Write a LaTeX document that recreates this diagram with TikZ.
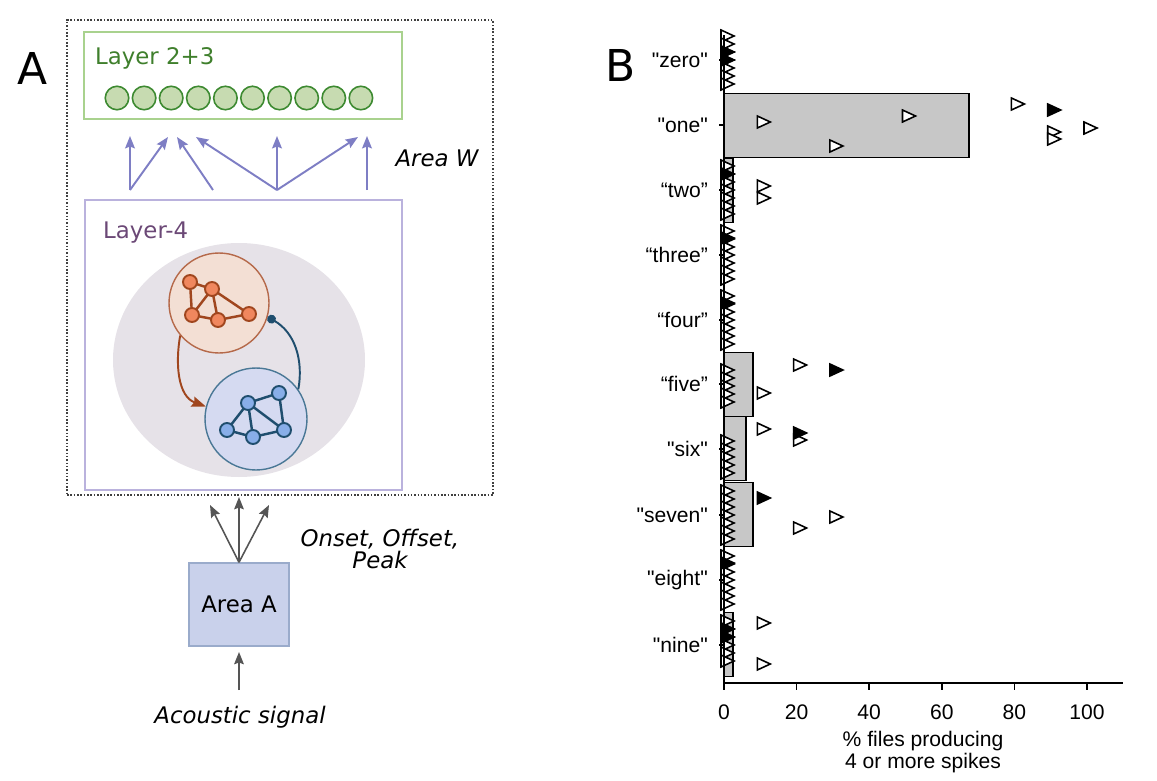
\documentclass[tikz,border=0pt]{standalone}
\usepackage{xcolor}
\usepackage{fontspec}
\setmainfont{DejaVu Sans}
\newfontfamily\plotfont{Liberation Sans}
\usepackage{tikz}
\usetikzlibrary{arrows.meta,positioning}

\definecolor{boxgreen}{HTML}{A9D28E}
\definecolor{textgreen}{HTML}{3F7F2C}
\definecolor{unitfill}{HTML}{C7DBB1}
\definecolor{unitline}{HTML}{3D8A31}
\definecolor{feedblue}{HTML}{7E7EC4}
\definecolor{boxpurple}{HTML}{BAB2DD}
\definecolor{textpurple}{HTML}{6B4876}
\definecolor{blobgray}{HTML}{E6E2E8}
\definecolor{orfill}{HTML}{F3DFD4}
\definecolor{orline}{HTML}{B5694A}
\definecolor{ornode}{HTML}{F0875E}
\definecolor{oredge}{HTML}{A0461E}
\definecolor{blfill}{HTML}{D5DAF1}
\definecolor{blline}{HTML}{4A7896}
\definecolor{blnode}{HTML}{88AEE8}
\definecolor{bledge}{HTML}{1F4E6E}
\definecolor{areafill}{HTML}{C9D1EB}
\definecolor{arealine}{HTML}{9AABCB}
\definecolor{inputgray}{HTML}{555555}

\tikzset{
    panelfont/.style={font=\fontsize{13}{16}\selectfont},
    italfont/.style={font=\fontsize{13}{16}\selectfont\itshape},
    unitcirc/.style={circle, draw=unitline, fill=unitfill, line width=0.9pt,
        minimum size=0.47cm, inner sep=0pt},
    ornet/.style={circle, draw=oredge, fill=ornode, line width=1.1pt,
        minimum size=0.28cm, inner sep=0pt},
    blnet/.style={circle, draw=bledge, fill=blnode, line width=1.1pt,
        minimum size=0.28cm, inner sep=0pt},
    feedarrow/.style={draw=feedblue, line width=1.1pt,
        -{Stealth[length=7pt,width=5.5pt,inset=1pt]}},
    inputarrow/.style={draw=inputgray, line width=0.9pt,
        -{Stealth[length=7pt,width=5.5pt,inset=1pt]}},
    catlabel/.style={font=\plotfont\fontsize{12}{14}\selectfont, anchor=east},
    ticklabel/.style={font=\plotfont\fontsize{12}{14}\selectfont}
}

% one triangle marker: value in %, y in px, fill colour
\newcommand{\marker}[3]{%
    \filldraw[fill=#3, line width=0.9pt, line join=miter]
        ({724+3.63*#1-3},{#2-6}) -- ({724+3.63*#1-3},{#2+6})
        -- ({724+3.63*#1+10},#2) -- cycle;}

\begin{document}
\begin{tikzpicture}[x=0.02cm,y=-0.02cm]
    \useasboundingbox (0,0) rectangle (1157,781);

    % ---------------- panel A ----------------
    \node[font=\fontsize{25}{28}\selectfont] (labA) at (33,68) {A};

    \node[
        draw=black!75,
        densely dotted,
        line width=0.9pt,
        minimum width=8.52cm,
        minimum height=9.5cm
        ] (areaW) at (280,257.5) {};

    \node[
        draw=boxgreen,
        line width=0.9pt,
        minimum width=6.36cm,
        minimum height=1.74cm
        ] (layer23) at (243,75.5) {};
    \node[panelfont, text=textgreen, anchor=west] (t23) at (89,58) {Layer 2+3};
    \foreach \i in {0,...,9}
        \node[unitcirc] (u\i) at ({117+27.1*\i},98) {};

    % feedforward arrows
    \coordinate (s1) at (130,190);
    \coordinate (s2) at (213,190);
    \coordinate (s3) at (277,190);
    \coordinate (s4) at (367,190);
    \coordinate (e1) at (130,136);
    \coordinate (e2) at (168,137);
    \coordinate (e3) at (177,137);
    \coordinate (e4) at (196,137);
    \coordinate (e5) at (277,136);
    \coordinate (e6) at (358,137);
    \coordinate (e7) at (367,136);
    \foreach \a/\b in {s1/e1, s1/e2, s2/e3, s3/e4, s3/e5, s3/e6, s4/e7}
        \draw[feedarrow] (\a) -- (\b);

    \node[italfont] (tW) at (437,158) {Area W};

    \node[
        draw=boxpurple,
        line width=0.9pt,
        minimum width=6.34cm,
        minimum height=5.8cm
        ] (layer4) at (243.5,345) {};
    \node[panelfont, text=textpurple, anchor=west] (t4) at (97,233) {Layer-4};

    \fill[blobgray] (239,360) ellipse[x radius=126, y radius=117];

    \node[circle, draw=orline, fill=orfill, line width=0.8pt,
        minimum size=2cm] (orclu) at (219,303) {};
    \node[circle, draw=blline, fill=blfill, line width=0.8pt,
        minimum size=2.04cm] (blclu) at (256,419) {};

    % excitatory cluster
    \coordinate (o1) at (190,282);
    \coordinate (o2) at (212,289);
    \coordinate (o3) at (192,315);
    \coordinate (o4) at (218,320);
    \coordinate (o5) at (249,314);
    \foreach \a/\b in {o1/o2, o1/o3, o2/o3, o2/o4, o2/o5, o3/o4, o4/o5}
        \draw[oredge, line width=1.4pt] (\a) -- (\b);
    \foreach \i in {1,...,5}
        \node[ornet] (on\i) at (o\i) {};

    % inhibitory cluster
    \coordinate (b1) at (248,403);
    \coordinate (b2) at (279,393);
    \coordinate (b3) at (227,430);
    \coordinate (b4) at (253,437);
    \coordinate (b5) at (284,430);
    \foreach \a/\b in {b1/b2, b1/b3, b1/b4, b1/b5, b2/b5, b3/b4, b4/b5}
        \draw[bledge, line width=1.4pt] (\a) -- (\b);
    \foreach \i in {1,...,5}
        \node[blnet] (bn\i) at (b\i) {};

    \draw[oredge, line width=1.1pt, -{Stealth[length=8pt,width=6pt,inset=1pt]}]
        (orclu.220) to[out=-100,in=160] (blclu.166);
    \draw[bledge, line width=1.1pt, -{Circle[length=5pt]}]
        (blclu.35) to[out=80,in=-30] (orclu.-16);

    % input area
    \node[
        draw=arealine,
        fill=areafill,
        line width=0.8pt,
        minimum width=2cm,
        minimum height=1.66cm,
        panelfont
        ] (areaA) at (239,604.5) {Area A};
    \coordinate (o1end) at (210,505);
    \coordinate (o2end) at (239,497);
    \coordinate (o3end) at (269,505);
    \foreach \e in {o1end, o2end, o3end}
        \draw[inputarrow] (areaA.north) -- (\e);
    \coordinate (sig) at (239,690);
    \draw[inputarrow, shorten >=3pt] (sig) -- (areaA.south);

    \node[italfont, align=center] (tOn) at (380,549)
        {Onset, Offset,\\[-3pt]Peak};
    \node[italfont] (tAc) at (240,717) {Acoustic signal};

    % ---------------- panel B ----------------
    \node[font=\fontsize{25}{28}\selectfont] (labB) at (621,65) {B};

    % bars
    \foreach \v/\yc in {67.5/125.5, 2.5/190.5, 8/384.5, 6/448.5, 8/514.5, 2.5/644.5}
        \filldraw[fill=black!22, line width=1pt]
            (724,{\yc-32}) rectangle ({724+3.63*\v},{\yc+32});

    % stacked markers at zero
    \foreach \yc/\offs in {60/{-24,-16,-8,0,8,16,24},
                           190/{-24,-16,-8,0,8,16,24},
                           255/{-24,-16,-8,0,8,16,24},
                           320/{-24,-16,-8,0,8,16,24},
                           384/{-14,-6,2,10,18},
                           449/{-8,0,8,16,24},
                           515/{-24,-16,-8,0,8,16,24},
                           580/{-24,-16,-8,0,8,16,24},
                           645/{-24,-16,-8,0,8,16}}
        \foreach \o in \offs
            \marker{0}{\yc+\o}{white};
    \foreach \y in {60,52,174,238,303,563,629,637}
        \marker{0}{\y}{black};

    % outlying markers
    \foreach \v/\y/\c in {10/122/white, 50/116/white, 30/146/white,
                          80/104/white, 90/110/black, 90/132/white,
                          90/139/white, 100/128/white,
                          10/186/white, 10/198/white,
                          20/365/white, 30/370/black, 10/393/white,
                          10/429/white, 20/440/white, 20/433/black,
                          10/498/black, 20/528/white, 30/517/white,
                          10/623/white, 10/664/white}
        \marker{\v}{\y}{\c};

    % axes
    \draw[line width=1pt] (724,35) -- (724,683) -- (1123,683);
    \foreach \v in {0,20,...,100}
        \draw[line width=1pt] ({724+3.63*\v},683) -- ({724+3.63*\v},690);
    \foreach \v in {0,20,...,100}
        \node[ticklabel] (tick\v) at ({724+3.63*\v},712) {\v};

    % categories
    \foreach \yc/\w in {60/"zero", 125/"one", 190/“two”, 255/“three”,
                        320/“four”, 384/“five”, 449/"six", 515/"seven",
                        580/"eight", 645/"nine"}
    {
        \draw[line width=1pt] (719,\yc) -- (724,\yc);
        \node[catlabel] (cat\yc) at (714,\yc) {\w};
    }

    \node[ticklabel, align=center] (xlab) at (923,752)
        {\% files producing\\[-2pt]4 or more spikes};
\end{tikzpicture}
\end{document}
